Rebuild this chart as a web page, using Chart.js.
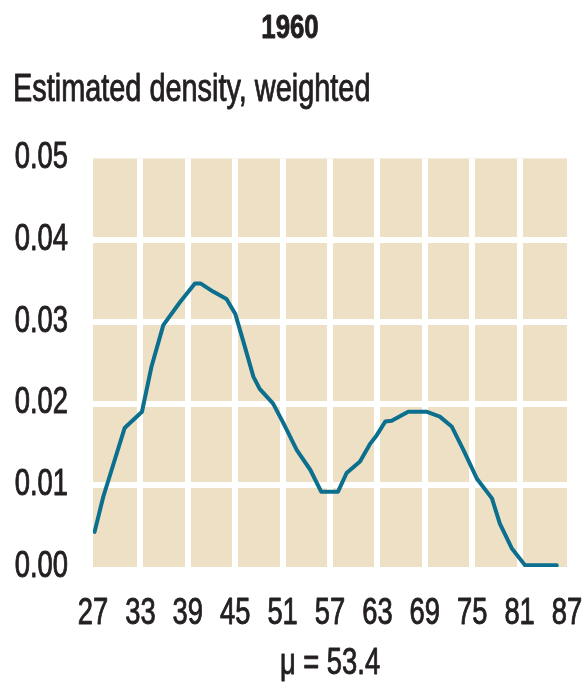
<!DOCTYPE html>
<html>
<head>
<meta charset="utf-8">
<script src="https://cdn.jsdelivr.net/npm/chart.js@4/dist/chart.umd.min.js"></script>
<style>
  html, body { margin: 0; padding: 0; background: #fff; }
  #wrap { width: 586px; height: 690px; }
</style>
</head>
<body>
<div id="wrap"><canvas id="chart" width="586" height="690"></canvas></div>
<script>
const FONT = "'Liberation Sans', Arial, sans-serif"
const INK = "#231f20"
const NARROW = 0.76 // squeeze text to look like a condensed face

const year = "1960"
const yTitle = "Estimated density, weighted"
const meanLabel = "\u03bc = 53.4"

// age (x) and density (y)
const ages = [27.2, 28.3, 31.0, 33.2, 34.4, 35.9, 38.0, 39.9, 40.6, 42.2,
  43.9, 45.0, 46.0, 47.3, 48.1, 49.8, 51.1, 52.8, 54.5, 55.9,
  57.4, 58.0, 59.1, 60.8, 62.1, 62.9, 64.0, 64.8, 66.9, 69.2,
  70.9, 72.4, 73.9, 75.6, 77.5, 78.5, 80.0, 81.7, 85.7]
const density = [0.0043, 0.0086, 0.0170, 0.0190, 0.0245, 0.0296, 0.0324, 0.0347, 0.0347, 0.0337,
  0.0328, 0.0310, 0.0277, 0.0233, 0.0218, 0.0200, 0.0176, 0.0143, 0.0119, 0.0092,
  0.0092, 0.0092, 0.0115, 0.0129, 0.0151, 0.0161, 0.0178, 0.0179, 0.0190, 0.0190,
  0.0184, 0.0172, 0.0143, 0.0108, 0.0084, 0.0053, 0.0023, 0.0002, 0.0002]

const xTicks = [27, 33, 39, 45, 51, 57, 63, 69, 75, 81, 87]
const yTicks = [0, 0.01, 0.02, 0.03, 0.04, 0.05]

const points = ages.map((a, i) => ({ x: a, y: density[i] }))

const canvas = document.getElementById("chart")
const ctx = canvas.getContext("2d")

// no condensed font installed, so narrow (and slightly thicken) the text
const fill = ctx.fillText.bind(ctx)
const stroke = ctx.strokeText.bind(ctx)
const measure = ctx.measureText.bind(ctx)
ctx.fillText = function (text, x, y, maxWidth) {
  this.save()
  this.translate(x, y)
  this.scale(NARROW, 1)
  this.lineWidth = 0.9
  this.lineJoin = "round"
  this.strokeStyle = this.fillStyle
  if (maxWidth === undefined) {
    stroke(text, 0, 0)
    fill(text, 0, 0)
  } else {
    stroke(text, 0, 0, maxWidth / NARROW)
    fill(text, 0, 0, maxWidth / NARROW)
  }
  this.restore()
}
ctx.measureText = function (text) {
  const m = measure(text)
  return {
    width: m.width * NARROW,
    actualBoundingBoxAscent: m.actualBoundingBoxAscent,
    actualBoundingBoxDescent: m.actualBoundingBoxDescent
  }
}

// beige panel behind the grid
const panel = {
  id: "panel",
  beforeDraw(chart) {
    const { ctx, chartArea: a } = chart
    ctx.save()
    ctx.fillStyle = "#ede0c5"
    ctx.fillRect(a.left, a.top, a.right - a.left, a.bottom - a.top)
    ctx.restore()
  }
}

// no white line on the panel's outer edges
function innerGrid(c) {
  const n = c.scale.ticks.length
  return (c.index === 0 || c.index === n - 1) ? "rgba(0,0,0,0)" : "#ffffff"
}

new Chart(canvas, {
  type: "line",
  data: {
    datasets: [{
      data: points,
      borderColor: "#0b6f8d",
      borderWidth: 4,
      pointRadius: 0,
      tension: 0,
      borderJoinStyle: "round",
      borderCapStyle: "round"
    }]
  },
  plugins: [panel],
  options: {
    responsive: false,
    animation: false,
    layout: { padding: { top: 8, left: 13, right: 19, bottom: 4 } },
    plugins: {
      legend: { display: false },
      tooltip: { enabled: false },
      title: {
        display: true,
        text: year,
        color: INK,
        align: "center",
        font: { family: FONT, size: 34, weight: "bold" },
        padding: { top: 0, bottom: 0 }
      },
      subtitle: {
        display: true,
        text: yTitle,
        color: INK,
        align: "start",
        font: { family: FONT, size: 38 },
        padding: { top: 19, bottom: 45 }
      }
    },
    scales: {
      x: {
        type: "linear",
        min: xTicks[0],
        max: xTicks[xTicks.length - 1],
        afterBuildTicks: s => { s.ticks = xTicks.map(v => ({ value: v })) },
        afterFit: s => {
          s.height = 119
          s.paddingLeft = 0
          s.paddingRight = 0
        },
        grid: { color: innerGrid, lineWidth: 6, drawTicks: false },
        border: { display: false },
        ticks: {
          color: INK,
          padding: 25,
          maxRotation: 0,
          autoSkip: false,
          font: { family: FONT, size: 36 }
        },
        title: {
          display: true,
          text: meanLabel,
          color: INK,
          font: { family: FONT, size: 36 },
          padding: { top: 0, bottom: 0 }
        }
      },
      y: {
        min: yTicks[0],
        max: yTicks[yTicks.length - 1],
        afterBuildTicks: s => { s.ticks = yTicks.map(v => ({ value: v })) },
        afterFit: s => { s.width = 80 },
        grid: { color: innerGrid, lineWidth: 6, drawTicks: false },
        border: { display: false },
        ticks: {
          color: INK,
          padding: 25,
          font: { family: FONT, size: 36 },
          callback: v => Number(v).toFixed(2)
        }
      }
    }
  }
})
</script>
</body>
</html>
